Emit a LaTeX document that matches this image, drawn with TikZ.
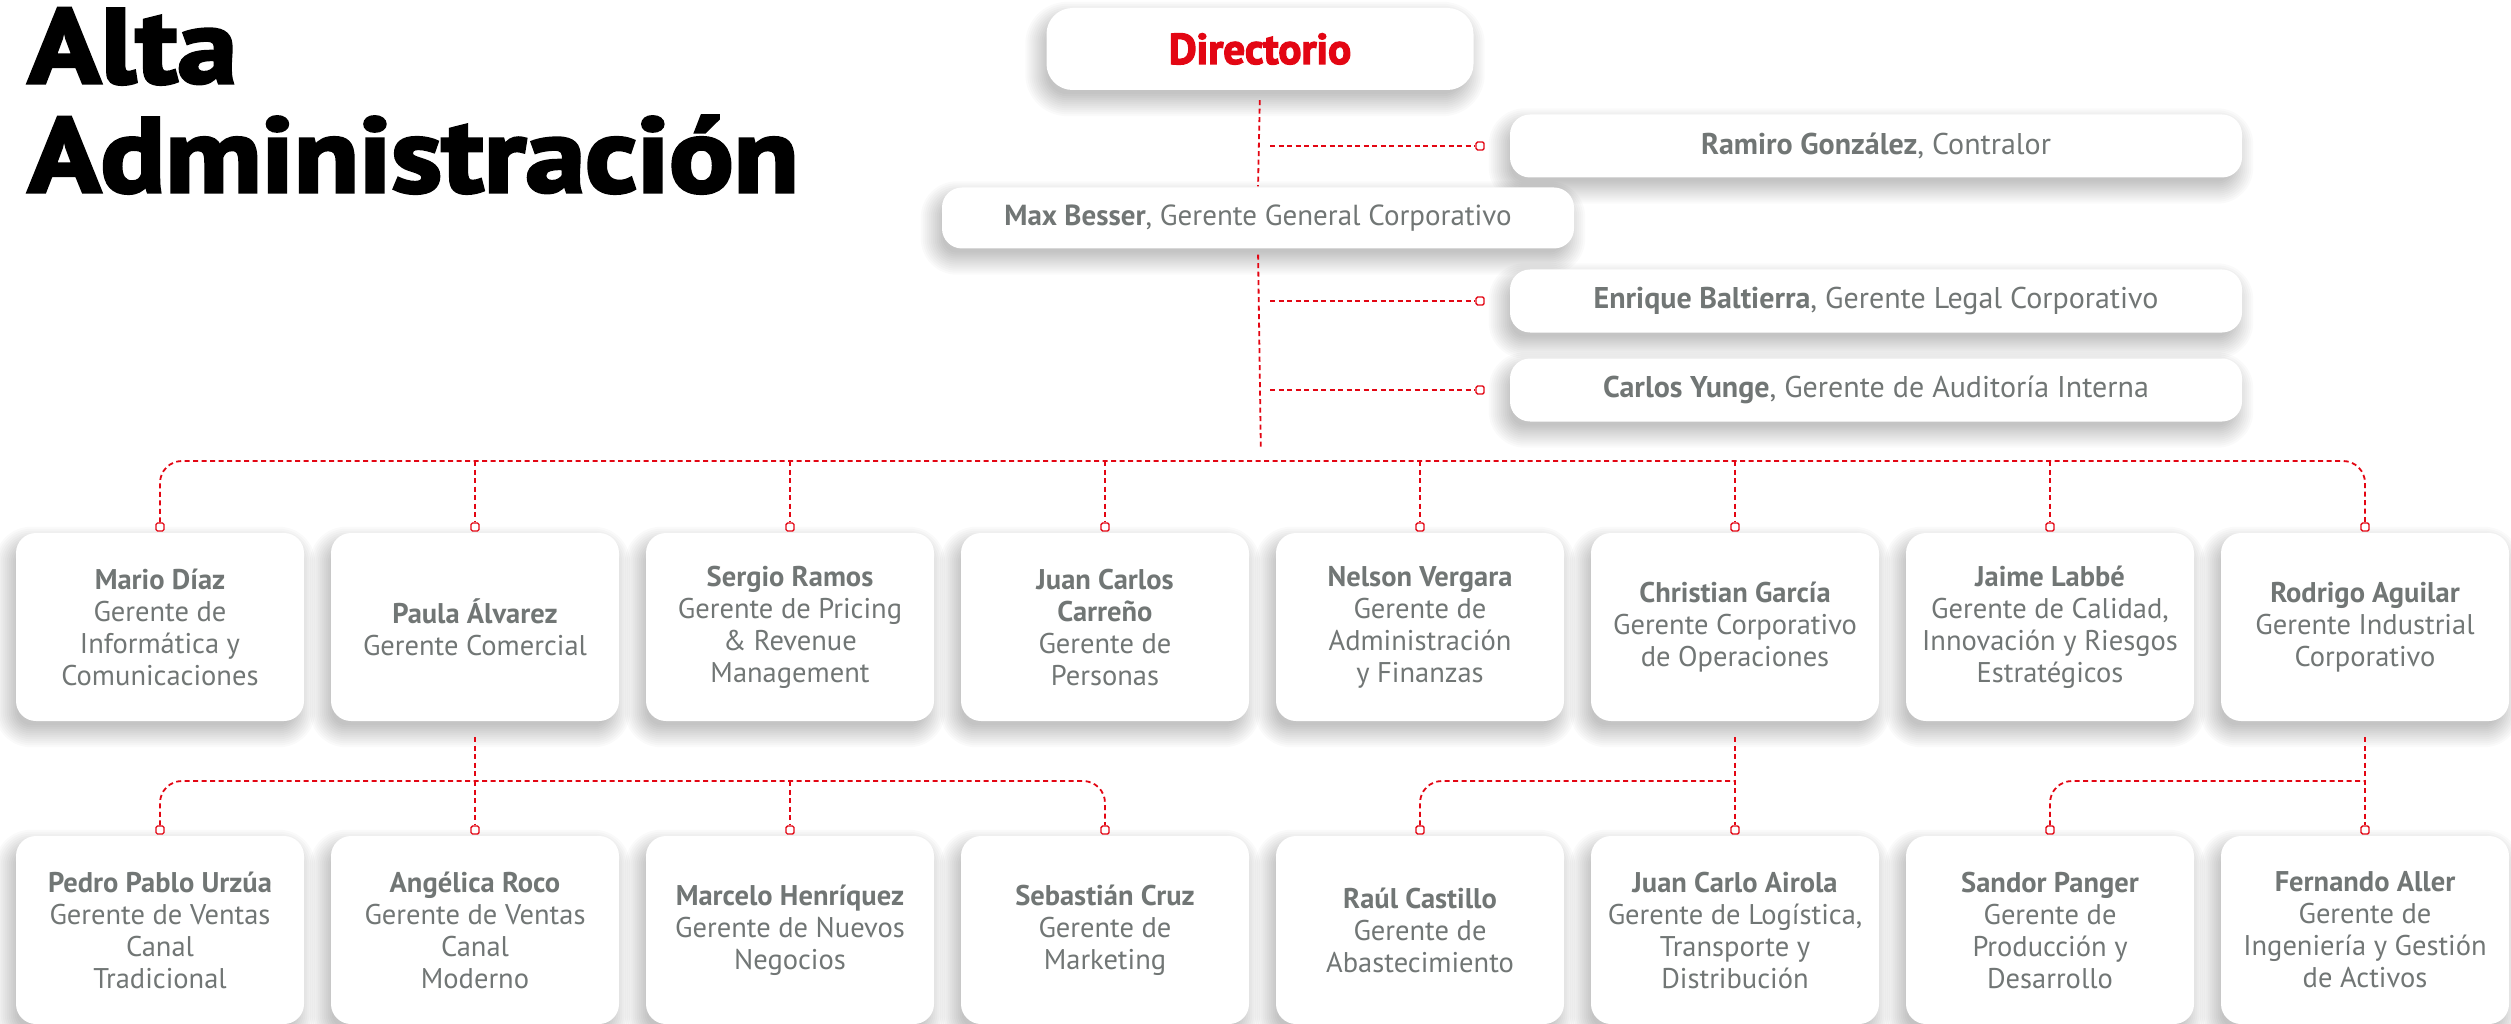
\documentclass[tikz,border=0pt]{standalone}
\usepackage{fontspec}
\setmainfont{PT Sans}
\newfontfamily\titlefont{PT Sans}[UprightFeatures={FakeBold=3}, BoldFeatures={FakeBold=3}]
\definecolor{redline}{HTML}{E30613}
\definecolor{txtgray}{HTML}{717675}
\pgfdeclarelayer{bg}
\pgfsetlayers{bg,main}
\newcommand\softshadow[2]{%
  \foreach \e in {-6,-4,...,16}{%
    \fill[black, opacity=0.019, rounded corners={#2+\e}]
      ([xshift={-5-\e}, yshift={-10-\e}]#1.south west) rectangle ([xshift={-5+\e}, yshift={-10+\e}]#1.north east);
  }}
\begin{document}
\begin{tikzpicture}[x=1pt,y=-1pt,
  box/.style={fill=white, rounded corners=20pt, text=txtgray, align=center, inner sep=0pt},
  lvl/.style={box, minimum width=288pt, minimum height=188pt, font=\fontsize{28.5}{32}\selectfont},
  wide/.style={box, minimum width=732pt, minimum height=63pt, font=\fontsize{30}{34}\selectfont},
  sq/.style={draw=redline, fill=white, line width=1.4pt, minimum size=8pt, inner sep=0pt, rounded corners=1.5pt},
  conn/.style={draw=redline, line width=1.8pt, dash pattern=on 5pt off 3.5pt},
  ttl/.style={anchor=base west, inner sep=0pt, font=\fontsize{106}{106}\titlefont\bfseries},
]
\useasboundingbox (0,0) rectangle (2511,1024);
\begin{pgfonlayer}{bg}
\fill[white] (0,0) rectangle (2511,1024);
\end{pgfonlayer}

% title
\node[ttl] (ta) at (28,83) {\scalebox{1.13}[1]{Alta}};
\node[ttl] (tb) at (28,192) {\scalebox{1.13}[1]{Administración}};

% top boxes
\node[box, minimum width=427pt, minimum height=82pt, rounded corners=26pt, text=redline, font=\fontsize{43}{46}\titlefont\bfseries] (dir) at (1260,49) {Directorio};
\node[box, minimum width=632pt, minimum height=61pt, font=\fontsize{29}{32}\selectfont] (max) at (1258,218) {\textbf{Max Besser}, Gerente General Corporativo};
\node[wide] (ramiro) at (1876,146) {\textbf{Ramiro González}, Contralor};
\node[wide] (enrique) at (1876,301) {\textbf{Enrique Baltierra}, Gerente Legal Corporativo};
\node[wide] (carlos) at (1876,390) {\textbf{Carlos Yunge}, Gerente de Auditoría Interna};

% level 1 boxes
\node[lvl] (b1) at (160,627) {\textbf{Mario Díaz}\\Gerente de\\Informática y\\Comunicaciones};
\node[lvl] (b2) at (475,627) {\textbf{Paula Álvarez}\\Gerente Comercial};
\node[lvl] (b3) at (790,627) {\textbf{Sergio Ramos}\\Gerente de Pricing\\\& Revenue\\Management};
\node[lvl] (b4) at (1105,627) {\textbf{Juan Carlos}\\\textbf{Carreño}\\Gerente de\\Personas};
\node[lvl] (b5) at (1420,627) {\textbf{Nelson Vergara}\\Gerente de\\Administración\\y Finanzas};
\node[lvl] (b6) at (1735,627) {\textbf{Christian García}\\Gerente Corporativo\\de Operaciones};
\node[lvl] (b7) at (2050,627) {\textbf{Jaime Labbé}\\Gerente de Calidad,\\Innovación y Riesgos\\Estratégicos};
\node[lvl] (b8) at (2365,627) {\textbf{Rodrigo Aguilar}\\Gerente Industrial\\Corporativo};

% level 2 boxes
\node[lvl] (c1) at (160,930) {\textbf{Pedro Pablo Urzúa}\\Gerente de Ventas\\Canal\\Tradicional};
\node[lvl] (c2) at (475,930) {\textbf{Angélica Roco}\\Gerente de Ventas\\Canal\\Moderno};
\node[lvl] (c3) at (790,930) {\textbf{Marcelo Henríquez}\\Gerente de Nuevos\\Negocios};
\node[lvl] (c4) at (1105,930) {\textbf{Sebastián Cruz}\\Gerente de\\Marketing};
\node[lvl] (c5) at (1420,930) {\textbf{Raúl Castillo}\\Gerente de\\Abastecimiento};
\node[lvl] (c6) at (1735,930) {\textbf{Juan Carlo Airola}\\Gerente de Logística,\\Transporte y\\Distribución};
\node[lvl] (c7) at (2050,930) {\textbf{Sandor Panger}\\Gerente de\\Producción y\\Desarrollo};
\node[lvl] (c8) at (2365,930) {\textbf{Fernando Aller}\\Gerente de\\Ingeniería y Gestión\\de Activos};

% shadows
\begin{pgfonlayer}{bg}
\softshadow{dir}{26}
\foreach \n in {max,ramiro,enrique,carlos,b1,b2,b3,b4,b5,b6,b7,b8,c1,c2,c3,c4,c5,c6,c7,c8}{\softshadow{\n}{20}}
\end{pgfonlayer}

% squares
\node[sq] (sr) at (1480,146) {};
\node[sq] (se) at (1480,301) {};
\node[sq] (sc) at (1480,390) {};
\foreach \i/\x in {1/160,2/475,3/790,4/1105,5/1420,6/1735,7/2050,8/2365}{
  \node[sq] (s\i) at (\x,527) {};
  \node[sq] (t\i) at (\x,830) {};
}

% junctions
\coordinate (j1) at (1261,461);
\coordinate (jr) at (1270,146);
\coordinate (je) at (1270,301);
\coordinate (jc) at (1270,390);
\coordinate (j2) at (475,781);
\coordinate (j3) at (1735,781);
\coordinate (j4) at (2365,781);

% connectors
\draw[conn, shorten <=10pt, shorten >=1pt] (dir.south) -- (max.north);
\draw[conn, shorten <=6pt, shorten >=14pt] (max.south) -- (j1);
\draw[conn] (jr) -- (sr);
\draw[conn] (je) -- (se);
\draw[conn] (jc) -- (sc);
\draw[conn, rounded corners=22pt] (s1) -- (s1 |- j1) -- (s8 |- j1) -- (s8);
\foreach \i in {2,...,7}{ \draw[conn] (s\i |- j1) -- (s\i); }

\draw[conn, shorten <=16pt] (b2.south) -- (j2);
\draw[conn, rounded corners=22pt] (t1) -- (t1 |- j2) -- (t4 |- j2) -- (t4);
\foreach \i in {2,3}{ \draw[conn] (t\i |- j2) -- (t\i); }

\draw[conn, shorten <=16pt] (b6.south) -- (t6);
\draw[conn, rounded corners=22pt] (t5) -- (t5 |- j3) -- (j3);

\draw[conn, shorten <=16pt] (b8.south) -- (t8);
\draw[conn, rounded corners=22pt] (t7) -- (t7 |- j4) -- (j4);
\end{tikzpicture}
\end{document}
